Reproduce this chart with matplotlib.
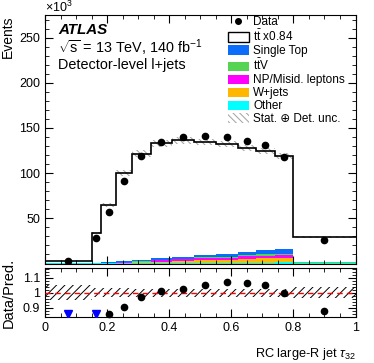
import matplotlib
matplotlib.use("Agg")
import matplotlib.pyplot as plt
import numpy as np
from matplotlib.patches import Patch
from matplotlib.lines import Line2D
from matplotlib.ticker import MultipleLocator, FixedLocator

plt.rcParams["font.family"] = ["Liberation Sans", "DejaVu Sans"]
plt.rcParams["mathtext.fontset"] = "custom"
plt.rcParams["mathtext.rm"] = "Liberation Sans"
plt.rcParams["mathtext.it"] = "Liberation Sans:italic"
plt.rcParams["hatch.linewidth"] = 0.7

# bin edges of tau_32
edges = [0.0, 0.15, 0.18, 0.23, 0.28, 0.34, 0.41, 0.48, 0.55, 0.62, 0.68, 0.74, 0.80, 1.0]

# events in units of 10^3
total_pred = [3.0, 33.5, 65.0, 100.0, 121.7, 132.8, 136.4, 134.2, 132.0, 127.6, 124.2, 118.7, 29.8]
data = [2.8, 28.0, 57.0, 91.7, 118.7, 135.0, 140.2, 141.0, 140.2, 135.3, 131.0, 117.6, 26.0]

# backgrounds (stack order bottom -> top)
other = [0.03, 0.05, 0.1, 0.2, 0.3, 0.5, 0.6, 0.7, 0.8, 1.0, 1.1, 1.2, 0.3]
wjets = [0.08, 0.12, 0.4, 0.7, 1.1, 1.7, 2.4, 3.0, 3.4, 4.2, 4.5, 4.8, 0.3]
np_misid = [0.05, 0.1, 0.3, 0.5, 0.8, 1.2, 1.6, 2.0, 2.3, 2.8, 3.1, 3.4, 0.4]
ttv = [0.02, 0.05, 0.15, 0.25, 0.4, 0.6, 0.8, 1.0, 1.1, 1.3, 1.5, 1.6, 0.2]
single_top = [0.1, 0.2, 0.5, 0.8, 1.2, 1.8, 2.3, 2.8, 3.2, 3.8, 4.2, 4.5, 0.8]

# relative stat+det uncertainty per bin
rel_unc = [0.05, 0.03, 0.03, 0.03, 0.028, 0.028, 0.027, 0.026, 0.026, 0.026, 0.026, 0.026, 0.035]

# data / prediction
ratio = [0.80, 0.83, 0.858, 0.902, 0.969, 1.013, 1.027, 1.05, 1.07, 1.063, 1.054, 0.998, 0.875]

edges = np.array(edges)
centers = 0.5 * (edges[:-1] + edges[1:])
W, H = 374, 363

fig = plt.figure(figsize=(W / 100, H / 100), dpi=100)
ax = fig.add_axes([45 / W, 1 - 263.5 / H, 310.5 / W, 248.5 / H])
rax = fig.add_axes([45 / W, 1 - 316.7 / H, 310.5 / W, 48.4 / H])

fs_tick = 9
fs_lab = 10
fs_txt = 10.4
fs_leg = 8.5


def ypix(p):
    # pixel row (from top of figure) -> main axes fraction
    return 1 - (p - 15) / 248.5


# stacked backgrounds
colors = ["#00ffff", "#ffb700", "#ff00ff", "#55d454", "#0b6dfa"]
bkgs = [other, wjets, np_misid, ttv, single_top]
bottom = np.zeros(len(centers))
for vals, c in zip(bkgs, colors):
    v = np.array(vals)
    ax.stairs(bottom + v, edges, baseline=bottom, fill=True, color=c, lw=0)
    bottom = bottom + v

tot = np.array(total_pred)
ax.stairs(tot, edges, baseline=bottom, fill=True, color="white", lw=0)
unc = tot * np.array(rel_unc)
ax.stairs(tot + unc, edges, baseline=tot - unc, fill=False, hatch="\\\\\\\\\\", color="#a0a0a0", lw=0)
ax.stairs(tot, edges, baseline=None, color="black", lw=1.2)
ax.plot(centers, data, "o", color="black", ms=4.5, zorder=4)

ax.set_xlim(0, 1)
ax.set_ylim(0, 275)
ax.xaxis.set_major_locator(MultipleLocator(0.2))
ax.xaxis.set_minor_locator(MultipleLocator(0.05))
ax.yaxis.set_major_locator(FixedLocator([50, 100, 150, 200, 250]))
ax.yaxis.set_minor_locator(MultipleLocator(10))
ax.tick_params(which="both", direction="in", top=True, right=True, labelsize=fs_tick)
ax.tick_params(which="major", length=6)
ax.tick_params(which="minor", length=3)
ax.tick_params(axis="x", labelbottom=False)
ax.set_ylabel("Events", fontsize=fs_lab, loc="top", labelpad=3)
ax.text(0.0, 1.0, r"$\times10^{3}$", transform=ax.transAxes, fontsize=fs_tick, ha="left", va="bottom")

x0 = 0.042
ax.text(x0, ypix(30), "ATLAS", transform=ax.transAxes, fontsize=fs_txt + 0.5,
        fontweight="bold", style="italic", va="center")
ax.text(x0, ypix(47.5), r"$\sqrt{\mathrm{s}}$ = 13 TeV, 140 fb$^{-1}$", transform=ax.transAxes,
        fontsize=fs_txt, va="center")
ax.text(x0, ypix(65), "Detector-level l+jets", transform=ax.transAxes, fontsize=fs_txt, va="center")

handles = [
    Line2D([], [], marker="o", ls="none", color="black", ms=4),
    Patch(facecolor="white", edgecolor="black", lw=1),
    Patch(facecolor=colors[4]),
    Patch(facecolor=colors[3]),
    Patch(facecolor=colors[2]),
    Patch(facecolor=colors[1]),
    Patch(facecolor=colors[0]),
    Patch(facecolor="white", edgecolor="#a0a0a0", hatch="\\\\\\\\\\", lw=0),
]
labels = ["Data", r"$\mathrm{t\bar{t}}$ x0.84", "Single Top", r"$\mathrm{t\bar{t}V}$",
          "NP/Misid. leptons", "W+jets", "Other", "Stat. \u2295 Det. unc."]
ax.legend(handles, labels, loc="upper left", bbox_to_anchor=(0.589, ypix(16)), frameon=False,
          fontsize=fs_leg, borderpad=0, borderaxespad=0, handlelength=1.75, handleheight=0.85,
          handletextpad=0.4, labelspacing=0.08)

# ratio panel
runc = np.array(rel_unc)
rax.stairs(1 + runc, edges, baseline=1 - runc, fill=False, hatch="////", color="black", lw=0)
rax.axhline(1, color="red", ls="--", lw=1, dashes=(4, 3), zorder=3)
r = np.array(ratio)
ylo, yhi = 0.84, 1.163
inside = (r >= ylo) & (r <= yhi)
rax.plot(centers[inside], r[inside], "o", color="black", ms=4.5, zorder=4, clip_on=False)
low = r < ylo
rax.plot(centers[low], np.full(low.sum(), ylo + 0.019), "v", color="#0000ff", ms=6, zorder=4)
rax.set_xlim(0, 1)
rax.set_ylim(ylo, yhi)
rax.xaxis.set_major_locator(FixedLocator([0, 0.2, 0.4, 0.6, 0.8, 1.0]))
rax.xaxis.set_minor_locator(MultipleLocator(0.05))
rax.set_xticklabels(["0", "0.2", "0.4", "0.6", "0.8", "1"])
rax.yaxis.set_major_locator(FixedLocator([0.9, 1.0, 1.1]))
rax.yaxis.set_minor_locator(MultipleLocator(0.02))
rax.set_yticklabels(["0.9", "1", "1.1"])
rax.tick_params(which="both", direction="in", top=True, right=True, labelsize=fs_tick)
rax.tick_params(which="major", length=6)
rax.tick_params(which="minor", length=3)
rax.set_ylabel("Data/Pred.", fontsize=fs_lab + 0.5, labelpad=5)
rax.set_xlabel(r"RC large-R jet $\tau_{32}$", fontsize=9.2, loc="right", labelpad=9)

fig.savefig("out.png", dpi=100)
